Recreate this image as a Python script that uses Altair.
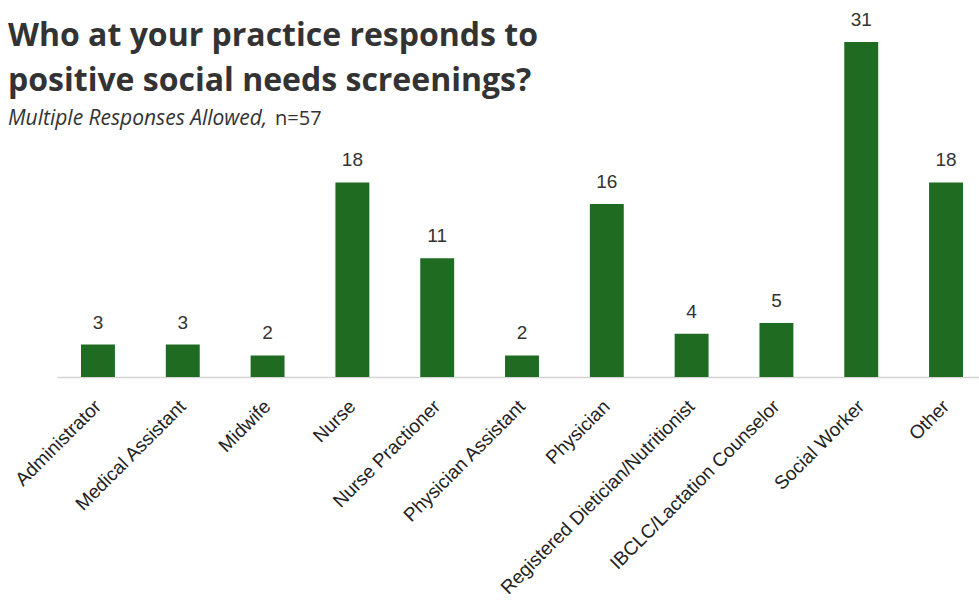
import altair as alt
import pandas as pd

# Who responds to positive social needs screenings (multiple responses, n=57)
roles = [
    "Administrator",
    "Medical Assistant",
    "Midwife",
    "Nurse",
    "Nurse Practioner",
    "Physician Assistant",
    "Physician",
    "Registered Dietician/Nutritionist",
    "IBCLC/Lactation Counselor",
    "Social Worker",
    "Other",
]
counts = [3, 3, 2, 18, 11, 2, 16, 4, 5, 31, 18]

title_lines = ["Who at your practice responds to", "positive social needs screenings?"]
subtitle_italic = "Multiple Responses Allowed,"
subtitle_plain = "n=57"

df = pd.DataFrame({"role": roles, "count": counts})

GREEN = "#1f6b22"
TEXT = "#333333"

x_enc = alt.X(
    "role:N",
    sort=roles,
    scale=alt.Scale(range=[0, 930], paddingInner=0.6, paddingOuter=0.283),
    axis=alt.Axis(
        title=None,
        labelAngle=-45,
        labelAlign="right",
        labelBaseline="middle",
        labelFont="Liberation Sans",
        labelFontSize=19,
        labelColor="#222222",
        labelPadding=26,
        labelLimit=0,
        labelOverlap=False,
        ticks=False,
        domainColor="#d4d4d4",
        domainWidth=1.5,
        grid=False,
    ),
)
y_enc = alt.Y("count:Q", scale=alt.Scale(domain=[0, 31], nice=False), axis=None)

base = alt.Chart(df)
bars = base.mark_bar(color=GREEN).encode(x=x_enc, y=y_enc)
values = base.mark_text(
    dy=-16, baseline="alphabetic", font="Liberation Sans", fontSize=19, color=TEXT
).encode(x=x_enc, y=y_enc, text="count:Q")


def label(text, x, y, size, weight="normal", style="normal"):
    return (
        alt.Chart(pd.DataFrame({"t": [text]}))
        .mark_text(
            align="left",
            baseline="alphabetic",
            font="Open Sans",
            fontSize=size,
            fontWeight=weight,
            fontStyle=style,
            color=TEXT,
        )
        .encode(text="t:N", x=alt.value(x), y=alt.value(y))
    )


title1 = label(title_lines[0], -49, 4, 32, weight="bold")
title2 = label(title_lines[1], -49, 49, 32, weight="bold")
sub1 = label(subtitle_italic, -49, 83, 21, style="italic")
sub2 = label(subtitle_plain, 218, 83, 20)

chart = (
    alt.layer(bars, values, title1, title2, sub1, sub2)
    .properties(
        width=922,
        height=335,
        padding={"left": 57, "top": 42, "right": 0, "bottom": 233},
        autosize=alt.AutoSizeParams(type="none"),
        background="white",
    )
    .configure_view(stroke=None)
)

chart.save("out.html", embed_options={"renderer": "svg", "actions": False})
